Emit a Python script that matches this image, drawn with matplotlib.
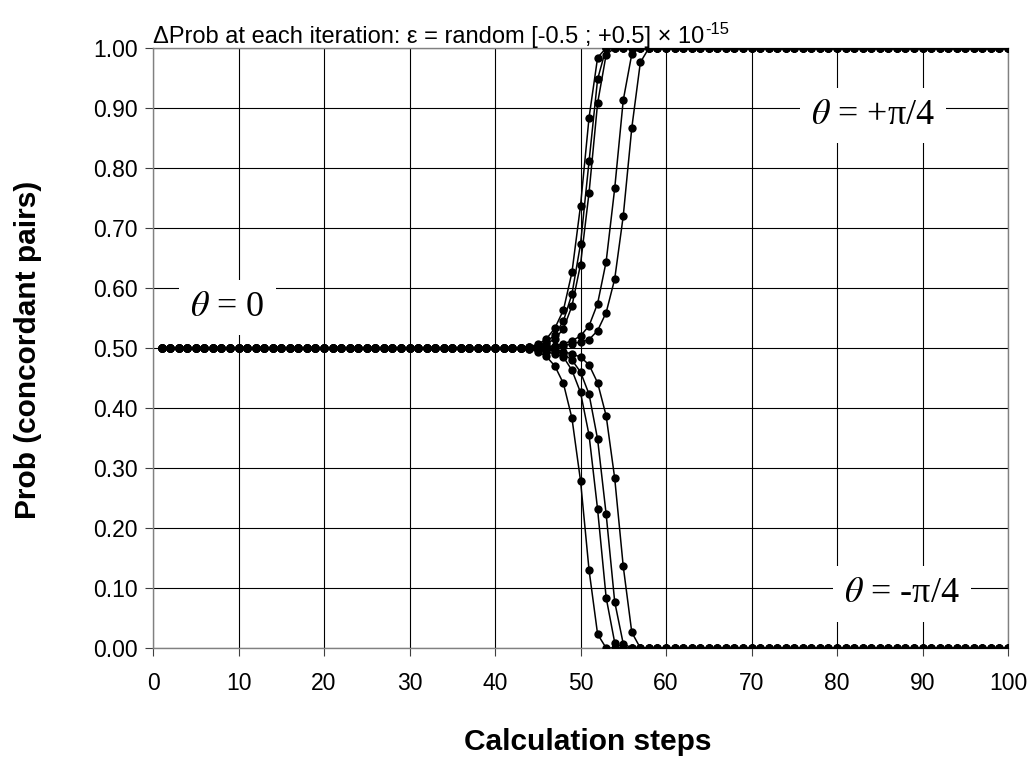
import numpy as np
import matplotlib
matplotlib.use("Agg")
import matplotlib.pyplot as plt

plt.rcParams['font.family'] = ['Liberation Sans', 'DejaVu Sans']
plt.rcParams['mathtext.fontset'] = 'stix'

# calculation steps 1..100, flat at 0.5 until the split, then each run heads to 0 or 1
steps = np.arange(1, 101)
plateau = 0.5
split_start = 44

# values from step 44 on; after the list the run stays at its end value
up_runs = [
    [0.502, 0.506, 0.515, 0.533, 0.563, 0.626, 0.737, 0.884, 0.984, 1.0],
    [0.501, 0.504, 0.510, 0.522, 0.545, 0.590, 0.673, 0.811, 0.948, 1.0],
    [0.501, 0.503, 0.507, 0.515, 0.532, 0.570, 0.639, 0.759, 0.908, 0.989, 1.0],
    [0.500, 0.501, 0.502, 0.504, 0.507, 0.512, 0.520, 0.537, 0.574, 0.644, 0.766, 0.913, 0.990, 1.0],
    [0.500, 0.500, 0.501, 0.502, 0.504, 0.507, 0.510, 0.514, 0.529, 0.559, 0.615, 0.720, 0.867, 0.976, 1.0],
]
down_runs = [
    [0.498, 0.494, 0.486, 0.470, 0.441, 0.383, 0.279, 0.130, 0.023, 0.0],
    [0.499, 0.497, 0.494, 0.490, 0.485, 0.463, 0.426, 0.355, 0.231, 0.084, 0.009, 0.0],
    [0.500, 0.499, 0.497, 0.495, 0.490, 0.480, 0.460, 0.423, 0.348, 0.223, 0.077, 0.007, 0.0],
    [0.500, 0.500, 0.499, 0.497, 0.494, 0.490, 0.485, 0.472, 0.442, 0.387, 0.283, 0.136, 0.026, 0.0],
]

title = 'ΔProb at each iteration: ε = random [-0.5 ; +0.5] × 10'
title_exp = '-15'
xlabel = 'Calculation steps'
ylabel = 'Prob (concordant pairs)'
xticks = np.arange(0, 101, 10)
yticks = np.arange(0, 1.01, 0.1)


def full_run(vals):
    before = [plateau] * (split_start - steps[0])
    after = [vals[-1]] * (len(steps) - len(before) - len(vals))
    return np.array(before + vals + after)


fig = plt.figure(figsize=(10.28, 7.58), dpi=100)
ax = fig.add_axes([153/1028, 1-648/758, 855/1028, 600/758])

for r in up_runs + down_runs:
    ax.plot(steps, full_run(r), color='black', linewidth=1.1,
            marker='o', markersize=6, markeredgewidth=0, zorder=3)

ax.set_xlim(0, 100)
ax.set_ylim(0, 1)
ax.set_xticks(xticks)
ax.set_yticks(yticks)
ax.yaxis.set_major_formatter(matplotlib.ticker.FormatStrFormatter('%.2f'))
ax.tick_params(direction='out', length=6, width=0.8, color='#404040',
               labelsize=16.5, pad=5)
ax.tick_params(axis='x', pad=11)
ax.grid(True, color='black', linewidth=0.8)
ax.set_axisbelow(True)
for s in ax.spines.values():
    s.set_color('#808080')
    s.set_linewidth(1.0)

# title with the exponent drawn as a small raised piece
t = fig.text(153/1028, 1-37/758, title, fontsize=17, va='center', ha='left')
fig.canvas.draw()
bb = t.get_window_extent()
fig.text((bb.x1 + 1)/1028, 1-30/758, title_exp, fontsize=12, va='center', ha='left')

fig.text(588/1028, 1-742/758, xlabel, fontsize=21.5, fontweight='bold',
         ha='center', va='center')
fig.text(28/1028, 1-350/758, ylabel, fontsize=21.5, fontweight='bold',
         rotation=90, ha='center', va='center')

box = dict(facecolor='white', edgecolor='none', pad=8)
lab_font = dict(family=['Liberation Serif', 'DejaVu Serif'], fontsize=26,
                ha='center', va='center', zorder=5, bbox=box)
ax.text(8.7, 0.567, r'$\theta$ = 0', **lab_font)
ax.text(84.2, 0.888, r'$\theta$ = +π/4', **lab_font)
ax.text(87.6, 0.09, r'$\theta$ = -π/4', **lab_font)

fig.savefig('out.png', dpi=100)
